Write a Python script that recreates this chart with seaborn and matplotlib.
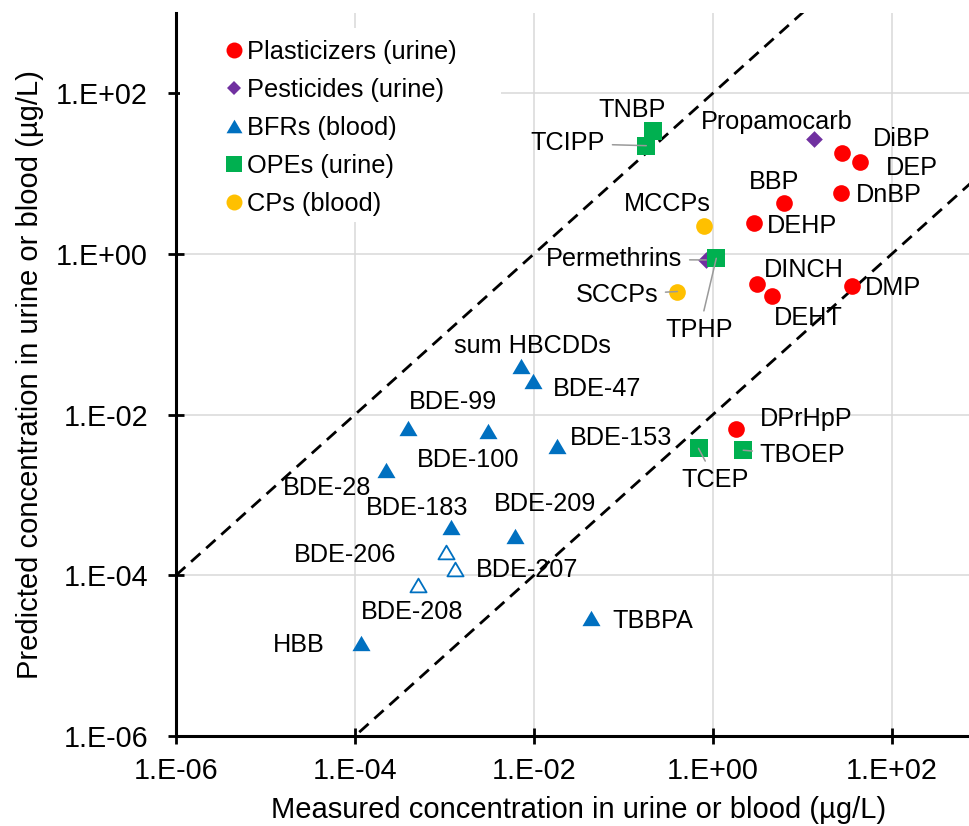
import numpy as np
import pandas as pd
import matplotlib
matplotlib.use("Agg")
import matplotlib.pyplot as plt
from matplotlib.lines import Line2D
from matplotlib.patches import Rectangle
from matplotlib.path import Path
from matplotlib.ticker import FixedLocator, FuncFormatter, NullLocator
import seaborn as sns

# ---------------------------------------------------------------------------
# Measured vs. predicted concentrations in urine or blood (µg/L)
# ---------------------------------------------------------------------------
plasticizer_names = ["DiBP", "DEP", "DnBP", "BBP", "DEHP", "DINCH", "DEHT", "DMP", "DPrHpP"]
plasticizer_measured = [28, 44, 26.7, 6.3, 2.9, 3.07, 4.6, 36, 1.8]
plasticizer_predicted = [18, 14, 5.8, 4.3, 2.4, 0.42, 0.30, 0.40, 0.0067]

pesticide_names = ["Propamocarb", "Permethrins"]
pesticide_measured = [13.3, 0.84]
pesticide_predicted = [26.7, 0.84]

bfr_names = ["sum HBCDDs", "BDE-47", "BDE-99", "BDE-100", "BDE-28", "BDE-153",
             "BDE-183", "BDE-209", "HBB", "TBBPA", "BDE-206", "BDE-207", "BDE-208"]
bfr_measured = [0.0071, 0.0098, 3.9e-4, 3.1e-3, 2.25e-4, 0.018,
                1.17e-3, 6.1e-3, 1.18e-4, 0.0436, 1.04e-3, 1.32e-3, 5.0e-4]
bfr_predicted = [0.040, 0.026, 6.9e-3, 6.3e-3, 2.06e-3, 4.1e-3,
                 4.0e-4, 3.1e-4, 1.44e-5, 2.9e-5, 1.95e-4, 1.21e-4, 7.6e-5]
bfr_open = [False] * 10 + [True, True, True]

ope_names = ["TNBP", "TCIPP", "TPHP", "TCEP", "TBOEP"]
ope_measured = [0.212, 0.18, 1.09, 0.69, 2.18]
ope_predicted = [33.9, 22.2, 0.88, 3.8e-3, 3.6e-3]

cp_names = ["MCCPs", "SCCPs"]
cp_measured = [0.79, 0.40]
cp_predicted = [2.23, 0.34]

group_labels = ["Plasticizers (urine)", "Pesticides (urine)", "BFRs (blood)",
                "OPEs (urine)", "CPs (blood)"]

x_ticks = [1e-6, 1e-4, 1e-2, 1e0, 1e2]
y_ticks = [1e-6, 1e-4, 1e-2, 1e0, 1e2]
fold_factor = 100  # 100-fold agreement band

# ---------------------------------------------------------------------------
# Assemble a tidy table
# ---------------------------------------------------------------------------
def _block(names, measured, predicted, group, hollow=None):
    return pd.DataFrame({
        "name": names,
        "measured": measured,
        "predicted": predicted,
        "group": group,
        "hollow": hollow if hollow is not None else [False] * len(names),
    })

df = pd.concat([
    _block(plasticizer_names, plasticizer_measured, plasticizer_predicted, group_labels[0]),
    _block(pesticide_names, pesticide_measured, pesticide_predicted, group_labels[1]),
    _block(bfr_names, bfr_measured, bfr_predicted, group_labels[2], bfr_open),
    _block(ope_names, ope_measured, ope_predicted, group_labels[3]),
    _block(cp_names, cp_measured, cp_predicted, group_labels[4]),
], ignore_index=True)

# ---------------------------------------------------------------------------
# Styling
# ---------------------------------------------------------------------------
sns.set_theme(style="white")
plt.rcParams["font.family"] = ["Liberation Sans", "DejaVu Sans"]
plt.rcParams["text.color"] = "black"

triangle = Path([(0, 0.425), (-0.5, -0.425), (0.5, -0.425), (0, 0.425)], closed=True)

group_style = {
    "Plasticizers (urine)": dict(marker="o", color="#FF0000", s=144, leg=11.5),
    "Pesticides (urine)": dict(marker="D", color="#7030A0", s=72, leg=7.6),
    "BFRs (blood)": dict(marker=triangle, color="#0070C0", s=169, leg=11.5),
    "OPEs (urine)": dict(marker="s", color="#00B050", s=169, leg=11.5),
    "CPs (blood)": dict(marker="o", color="#FFC000", s=144, leg=11.5),
}

# label placement: offset (px) from the point and horizontal anchor
label_pos = {
    "DiBP": (30.7, -13.8, "left"), "DEP": (25.6, 5.8, "left"),
    "DnBP": (15, 2.2, "left"), "BBP": (-10, -20.8, "center"),
    "DEHP": (12.7, 2.2, "left"), "DINCH": (7, -14.5, "left"),
    "DEHT": (1.4, 22.5, "left"), "DMP": (12.4, 2.5, "left"),
    "DPrHpP": (24, -9.5, "left"),
    "Propamocarb": (-36.7, -16.8, "center"), "Permethrins": (-24, -0.5, "right"),
    "sum HBCDDs": (11.5, -20.2, "center"), "BDE-47": (19.3, 7.8, "left"),
    "BDE-99": (45.2, -25.8, "center"), "BDE-100": (-20, 29, "center"),
    "BDE-28": (-15.7, 18, "right"), "BDE-153": (13.3, -7.9, "left"),
    "BDE-183": (-33.3, -18.8, "center"), "BDE-209": (30.7, -31.8, "center"),
    "HBB": (-36.7, 2.2, "right"), "TBBPA": (21.4, 2.5, "left"),
    "BDE-206": (-49.3, 3.2, "right"), "BDE-207": (21, 1.8, "left"),
    "BDE-208": (-5.7, 27, "center"),
    "TNBP": (-21, -21, "center"), "TCIPP": (-41.3, -2.2, "right"),
    "TPHP": (-17, 71.9, "center"), "TCEP": (16.8, 31.7, "center"),
    "TBOEP": (16.6, 5.1, "left"),
    "MCCPs": (-36.4, -21.5, "center"), "SCCPs": (-19.3, 3.3, "right"),
}
leader_lines = {"TCIPP", "Permethrins", "SCCPs", "TPHP", "TCEP", "TBOEP"}

# ---------------------------------------------------------------------------
# Figure
# ---------------------------------------------------------------------------
W, H = 969, 826
fig = plt.figure(figsize=(W / 100, H / 100), dpi=100, facecolor="white")
ax = fig.add_axes([176 / W, 90 / H, 805.4 / W, 723.2 / H])
ax.set_xscale("log")
ax.set_yscale("log")
ax.set_xlim(1e-6, 1e3)
ax.set_ylim(1e-6, 1e3)

# agreement band
line_x = np.array([1e-6, 1e3])
ax.plot(line_x, line_x * fold_factor, color="black", lw=2, ls=(0, (4.5, 2.8)), zorder=2)
ax.plot(line_x, line_x / fold_factor, color="black", lw=2, ls=(0, (4.5, 2.8)), zorder=2)

for grp in group_labels:
    st = group_style[grp]
    sub = df[(df["group"] == grp) & (~df["hollow"])]
    sns.scatterplot(data=sub, x="measured", y="predicted", marker=st["marker"],
                    color=st["color"], s=st["s"], linewidth=0, ax=ax,
                    legend=False, zorder=2.5)
    hol = df[(df["group"] == grp) & (df["hollow"])]
    if len(hol):
        sns.scatterplot(data=hol, x="measured", y="predicted", marker=st["marker"],
                        color="white", edgecolor=st["color"], s=st["s"] * 0.8,
                        linewidth=1.3, ax=ax, legend=False, zorder=2.5)

px2pt = 0.72
for _, row in df.iterrows():
    dx, dy, ha = label_pos[row["name"]]
    kw = {}
    if row["name"] in leader_lines:
        kw["arrowprops"] = dict(arrowstyle="-", color="#9a9a9a", lw=1.1,
                                shrinkA=3, shrinkB=0)
    ax.annotate(row["name"], xy=(row["measured"], row["predicted"]),
                xytext=(dx * px2pt, -dy * px2pt), textcoords="offset points",
                ha=ha, va="center", fontsize=18.2, color="black", zorder=3, **kw)

# axes decoration
ax.set_axisbelow(True)
ax.grid(True, which="major", color="#d9d9d9", lw=1.1)
ax.xaxis.set_major_locator(FixedLocator(x_ticks))
ax.yaxis.set_major_locator(FixedLocator(y_ticks))
ax.xaxis.set_minor_locator(NullLocator())
ax.yaxis.set_minor_locator(NullLocator())
fmt = FuncFormatter(lambda v, _: f"1.E{int(round(np.log10(v))):+03d}")
ax.xaxis.set_major_formatter(fmt)
ax.yaxis.set_major_formatter(fmt)
ax.tick_params(axis="both", which="major", direction="inout", length=11.5, width=2,
               color="black", labelsize=20.7, labelcolor="black",
               bottom=True, left=True)
ax.tick_params(axis="x", pad=9.4)
ax.tick_params(axis="y", pad=14.4)
for side in ["top", "right"]:
    ax.spines[side].set_visible(False)
for side in ["left", "bottom"]:
    ax.spines[side].set_color("black")
    ax.spines[side].set_linewidth(2.2)

ax.set_xlabel("Measured concentration in urine or blood (µg/L)", fontsize=21,
              color="black", labelpad=8.0)
ax.set_ylabel("Predicted concentration in urine or blood (µg/L)", fontsize=21,
              color="black", labelpad=8.6)

# legend with a white backing that masks the grid
ax.add_patch(Rectangle((0.005, 0.711), 0.3985, 0.268, transform=ax.transAxes,
                       facecolor="white", edgecolor="none", zorder=0.8))
handles = [Line2D([], [], linestyle="none", marker=group_style[g]["marker"],
                  color=group_style[g]["color"], markeredgewidth=0,
                  markersize=group_style[g]["leg"], label=g)
           for g in group_labels]
ax.legend(handles=handles, loc="upper left", bbox_to_anchor=(0.061, 0.9625),
          frameon=False, fontsize=18.3, handlelength=0.7, handletextpad=0.15,
          labelspacing=0.55, borderpad=0, borderaxespad=0)

fig.savefig("out.png", dpi=100, facecolor="white")
